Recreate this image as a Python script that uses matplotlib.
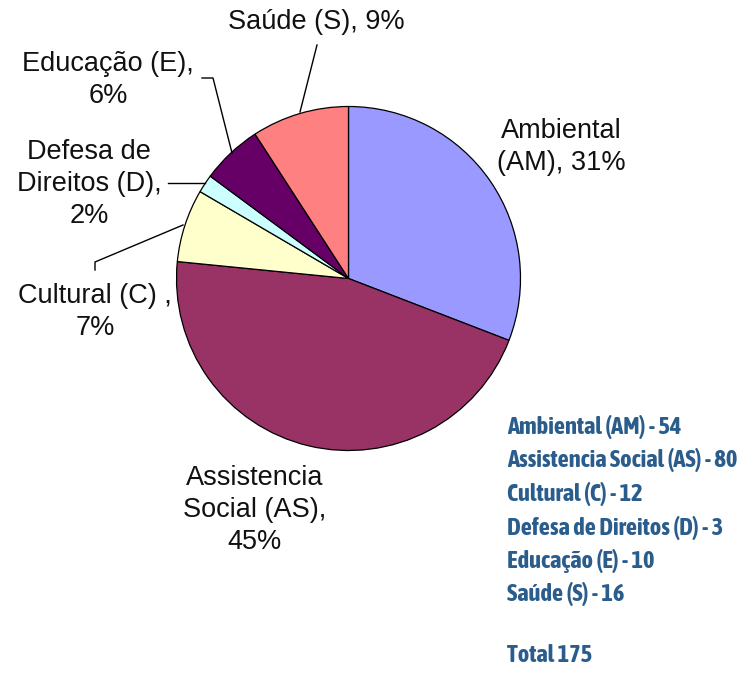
import matplotlib.pyplot as plt
from matplotlib import font_manager

# ---------------- data ----------------
sectors = ['Ambiental (AM)', 'Assistencia Social (AS)', 'Cultural (C)',
           'Defesa de Direitos (D)', 'Educação (E)', 'Saúde (S)']
counts = [54, 80, 12, 3, 10, 16]
percent_text = ['31%', '45%', '7%', '2%', '6%', '9%']
colors = ['#9999FF', '#993366', '#FFFFCC', '#CCFFFF', '#660066', '#FF8080']

W, H = 741, 673

# ---------------- figure in pixel coordinates ----------------
fig = plt.figure(figsize=(W / 100, H / 100), dpi=100)
ax = fig.add_axes([0, 0, 1, 1])


def Y(py):
    return H - py


ax.pie(counts, colors=colors, startangle=90, counterclock=False,
       center=(348.5, Y(278.5)), radius=172, frame=True,
       wedgeprops=dict(edgecolor='black', linewidth=0.9))
ax.set_xlim(0, W)
ax.set_ylim(0, H)
ax.set_aspect('equal')
ax.axis('off')

lab_font = dict(family=['Liberation Sans', 'DejaVu Sans'], fontsize=19.5,
                color='#111111', ha='center', va='center', linespacing=1.3)

# slice labels: text, centre position
ax.text(561, Y(147), 'Ambiental\n(AM), ' + percent_text[0], **lab_font)
ax.text(255, Y(510), 'Assistencia\nSocial (AS),\n' + percent_text[1], **lab_font)
ax.text(95, Y(312), 'Cultural (C) ,\n' + percent_text[2], **lab_font)
ax.text(89, Y(184), 'Defesa de\nDireitos (D),\n' + percent_text[3], **lab_font)
ax.text(108, Y(80), 'Educação (E),\n' + percent_text[4], **lab_font)
ax.text(316, Y(22), 'Saúde (S), ' + percent_text[5], **lab_font)

# leader lines
leaders = [
    [(317, 45), (300, 112)],
    [(202, 78), (213, 78), (232, 153)],
    [(168, 183), (205, 183)],
    [(95, 270), (95, 262), (183, 225)],
]
for pts in leaders:
    ax.plot([p[0] for p in pts], [Y(p[1]) for p in pts], color='black', lw=1.0)

# ---------------- summary list on the right ----------------
# look for a condensed / narrow font, otherwise shrink a normal one to fit
family = 'Liberation Sans'
stretch = 'normal'
for f in font_manager.fontManager.ttflist:
    if ('Narrow' in f.name or 'Condensed' in f.name) and f.weight in (700, 'bold'):
        family = f.name
        break
else:
    for f in font_manager.fontManager.ttflist:
        if f.name == 'DejaVu Sans' and 'condensed' in str(f.stretch) and f.weight in (700, 'bold'):
            family, stretch = 'DejaVu Sans', 'condensed'
            break

list_font = dict(family=family, fontstretch=stretch, fontweight='bold',
                 color='#2B5D8C', ha='left', va='center')
texts = []
for i, (name, n) in enumerate(zip(sectors, counts)):
    texts.append(ax.text(507, Y(427 + i * 33.5), f'{name} - {n}', fontsize=18, **list_font))
texts.append(ax.text(507, Y(655), f'Total {sum(counts)}', fontsize=18, **list_font))

# fit the widest line to the width it has in the original (about 231 px)
fig.canvas.draw()
widest = max(t.get_window_extent().width for t in texts)
size = min(18, 18 * 231 / widest)
for t in texts:
    t.set_fontsize(size)

plt.savefig('out.png', dpi=100)
